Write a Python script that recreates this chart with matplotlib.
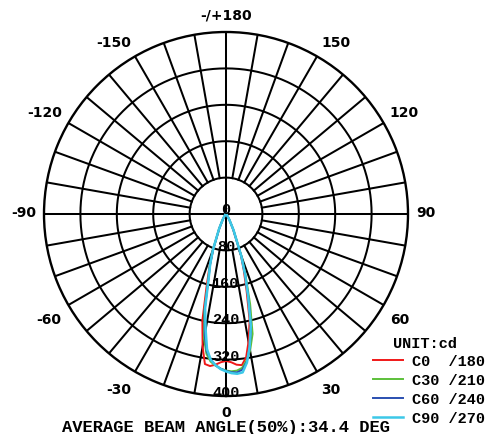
import numpy as np
import matplotlib
matplotlib.use("Agg")
import matplotlib.pyplot as plt

# gamma angles (deg), 0 = straight down
angles = [-45, -40, -35, -30, -25, -20, -17.5, -15, -12.5, -10, -8, -6, -4, -2, 0,
          2, 4, 6, 8, 10, 12.5, 15, 17.5, 20, 25, 30, 35, 40, 45]
c0 = [0, 3, 7, 14, 34, 82, 120, 165, 240, 296, 333, 336, 332, 326, 323,
      326, 332, 334, 318, 285, 240, 175, 130, 95, 36, 14, 6, 2, 0]
c30 = [0, 3, 7, 15, 36, 84, 118, 152, 222, 278, 310, 326, 334, 340, 344,
       346, 345, 340, 325, 305, 270, 205, 145, 100, 40, 15, 6, 2, 0]
c60 = [0, 3, 7, 15, 35, 82, 115, 150, 218, 270, 305, 322, 333, 340, 345,
       348, 349, 344, 328, 300, 255, 190, 140, 98, 38, 15, 6, 2, 0]
c90 = [0, 3, 7, 15, 36, 84, 116, 148, 212, 258, 300, 322, 333, 341, 346,
       350, 352, 350, 330, 298, 252, 188, 140, 98, 39, 15, 6, 2, 0]

series_labels = ["C0  /180", "C30 /210", "C60 /240", "C90 /270"]
series_colors = ["#f01818", "#5cc03a", "#2a4fb0", "#3cc8e8"]

ring_values = [80, 160, 240, 320, 400]
angle_ticks = [0, 30, 60, 90, 120, 150, 180, -150, -120, -90, -60, -30]
angle_texts = ["0", "30", "60", "90", "120", "150", "-/+180", "-150", "-120", "-90", "-60", "-30"]
beam_text = "AVERAGE BEAM ANGLE(50%):34.4 DEG"

W, H = 490, 435
fig = plt.figure(figsize=(W / 100, H / 100), dpi=100)
cx, cy, R = 226, 215, 182
ax = fig.add_axes([(cx - R) / W, (H - cy - R) / H, 2 * R / W, 2 * R / H], projection="polar")
ax.set_theta_zero_location("S")
ax.set_theta_direction(1)
ax.set_ylim(0, 400)
ax.grid(False)
ax.set_xticks([])
ax.set_yticks([])
ax.spines["polar"].set_linewidth(1.7)
ax.spines["polar"].set_color("black")

# grid
full = np.linspace(0, 2 * np.pi, 721)
for rv in ring_values[:-1]:
    ax.plot(full, np.full_like(full, rv), color="black", lw=1.45, zorder=1)
for a in range(0, 360, 10):
    t = np.deg2rad(a)
    r0 = 0 if a % 90 == 0 else ring_values[0]
    ax.plot([t, t], [r0, 400], color="black", lw=1.45, zorder=1)

# curves
th = np.deg2rad(angles)
lines = []
for vals, col, lab in zip([c0, c30, c60, c90], series_colors, series_labels):
    lw = 1.8 if col == series_colors[-1] else 1.4
    ln, = ax.plot(th, vals, color=col, lw=lw, label=lab, zorder=3)
    lines.append(ln)

mono = dict(family="Liberation Mono", weight="bold")

# radial labels
ax.annotate("0", xy=(0, 0), xytext=(0, 5), textcoords="offset pixels",
            ha="center", va="center", fontsize=11, zorder=5, **mono)
for rv in ring_values:
    ax.annotate(str(rv), xy=(0, rv), xytext=(0, 4), textcoords="offset pixels",
                ha="center", va="center", fontsize=11, zorder=5, **mono)

# angle labels: anchored on the outer circle, pushed outwards
label_offsets = {0: (0, -16), 30: (4, -17), 60: (7, -14), 90: (8, 2),
                 120: (6, 11), 150: (4, 14), 180: (0, 17)}
for a, s in zip(angle_ticks, angle_texts):
    dx, dy = label_offsets[abs(a)]
    if a < 0:
        dx, ha = -dx, "right"
    elif a in (0, 180):
        ha = "center"
    else:
        ha = "left"
    ax.annotate(s, xy=(np.deg2rad(a), 400), xytext=(dx, dy), textcoords="offset pixels",
                ha=ha, va="center", fontsize=10, family="DejaVu Sans", weight="bold",
                annotation_clip=False)

fig.text(393 / W, 1 - 344 / H, "UNIT:cd", ha="left", va="center", fontsize=11, **mono)
leg = fig.legend(handles=lines, loc="upper left", bbox_to_anchor=(373 / W, 1 - 355 / H),
                 frameon=False, prop=dict(family="Liberation Mono", weight="bold", size=11),
                 handlelength=1.95, handletextpad=0.6, labelspacing=0.33,
                 borderpad=0, borderaxespad=0)

fig.text(62 / W, 1 - 428 / H, beam_text, ha="left", va="center", fontsize=12.3, **mono)

fig.savefig("out.png", dpi=100)
